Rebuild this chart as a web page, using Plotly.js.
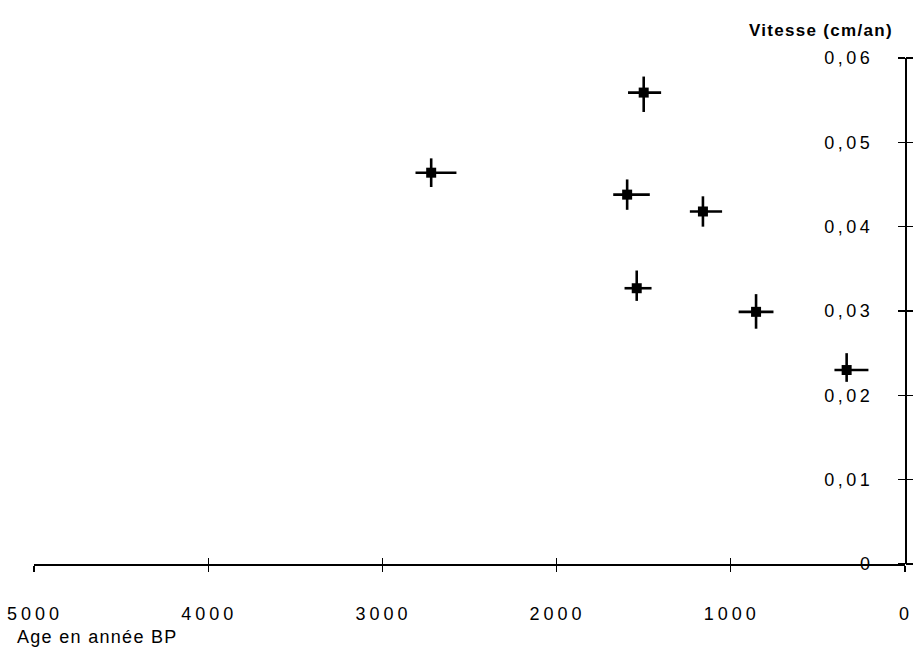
<!DOCTYPE html>
<html>
<head>
<meta charset="utf-8">
<script src="https://cdn.plot.ly/plotly-3.0.1.min.js"></script>
<style>
html, body { margin: 0; padding: 0; background: #fff; }
#chart { width: 917px; height: 662px; }
.xaxislayer-above text { letter-spacing: 4px; }
.yaxislayer-above text { letter-spacing: 3.5px; }
.annotation-text { letter-spacing: 1.3px; }
</style>
</head>
<body>
<div id="chart"></div>
<script>
// Data
const ages = [1500, 2720, 1595, 1160, 1540, 855, 335];          // Age en année BP
const vitesse = [0.0559, 0.0464, 0.0438, 0.0418, 0.0327, 0.0299, 0.0230]; // cm/an
const ageErrOlder = [90, 90, 80, 75, 70, 100, 70];      // towards larger ages (left)
const ageErrYounger = [100, 145, 130, 110, 85, 100, 125]; // towards smaller ages (right)
const vitErrUp = [0.0019, 0.0017, 0.0018, 0.0018, 0.0021, 0.0021, 0.0020];
const vitErrDown = [0.0023, 0.0017, 0.0018, 0.0018, 0.0015, 0.0020, 0.0014];

const xTickVals = [5000, 4000, 3000, 2000, 1000, 0];
const xTickText = ['5000', '4000', '3000', '2000', '1000', '0'];
const yTickVals = [0, 0.01, 0.02, 0.03, 0.04, 0.05, 0.06];
const yTickText = ['0', '0,01', '0,02', '0,03', '0,04', '0,05', '0,06'];

const xTitle = 'Age en année BP';
const yTitle = 'Vitesse (cm/an)';

const fontFam = '"Liberation Sans", Arial, sans-serif';

const traces = [
  {
    type: 'scatter', mode: 'markers',
    x: ages, y: vitesse,
    marker: { symbol: 'square', size: 10, color: '#000' },
    error_x: { type: 'data', symmetric: false, array: ageErrOlder, arrayminus: ageErrYounger,
               color: '#000', thickness: 2.6, width: 0 },
    error_y: { type: 'data', symmetric: false, array: vitErrUp, arrayminus: vitErrDown,
               color: '#000', thickness: 2.6, width: 0 },
    showlegend: false, hoverinfo: 'x+y'
  },
  {
    type: 'scatter', mode: 'markers',
    x: ages, y: vitesse, xaxis: 'x2', yaxis: 'y2',
    marker: { size: 1, opacity: 0 }, showlegend: false, hoverinfo: 'skip'
  }
];

const layout = {
  width: 917, height: 662,
  margin: { l: 34, r: 12, t: 58, b: 98 },
  paper_bgcolor: '#fff', plot_bgcolor: '#fff',
  font: { family: fontFam, color: '#000', size: 18 },
  showlegend: false,
  xaxis: {
    range: [5000, 0], autorange: false,
    tickvals: xTickVals, ticktext: xTickText,
    ticks: 'outside', ticklen: 6, tickwidth: 1.3, tickcolor: '#000',
    showline: true, linecolor: '#000', linewidth: 1.6,
    showgrid: false, zeroline: false,
    ticklabelstandoff: 27,
    ticklabelshift: -1,
    ticklabeloverflow: 'allow',
    tickfont: { family: fontFam, size: 18, color: '#000' }
  },
  xaxis2: {
    overlaying: 'x', matches: 'x', anchor: 'y', side: 'bottom',
    range: [5000, 0], autorange: false,
    tickvals: xTickVals, ticks: 'inside', ticklen: 6, tickwidth: 1.3, tickcolor: '#000',
    showticklabels: false, showline: false, showgrid: false, zeroline: false
  },
  yaxis: {
    range: [0, 0.06], autorange: false, side: 'left', anchor: 'free', position: 1,
    tickvals: yTickVals, ticktext: yTickText,
    ticks: 'outside', ticklen: 7, tickwidth: 1.3, tickcolor: '#000',
    ticklabelstandoff: 21,
    showline: true, linecolor: '#000', linewidth: 1.6,
    showgrid: false, zeroline: false,
    tickfont: { family: fontFam, size: 18, color: '#000' }
  },
  yaxis2: {
    overlaying: 'y', matches: 'y', anchor: 'x', side: 'right',
    range: [0, 0.06], autorange: false,
    tickvals: yTickVals, ticks: 'outside', ticklen: 7, tickwidth: 1.3, tickcolor: '#000',
    showticklabels: false, showline: false, showgrid: false, zeroline: false
  },
  annotations: [
    {
      text: xTitle, xref: 'paper', yref: 'paper', x: -0.022, y: -0.144,
      xanchor: 'left', yanchor: 'middle', showarrow: false,
      font: { family: fontFam, size: 18, color: '#000' }
    },
    {
      text: yTitle, xref: 'paper', yref: 'paper', x: 0.9885, y: 1.055,
      xanchor: 'right', yanchor: 'middle', showarrow: false,
      font: { family: fontFam, size: 17, color: '#000', weight: 'bold' }
    }
  ]
};

Plotly.newPlot('chart', traces, layout, { displayModeBar: false, staticPlot: true });
</script>
</body>
</html>
